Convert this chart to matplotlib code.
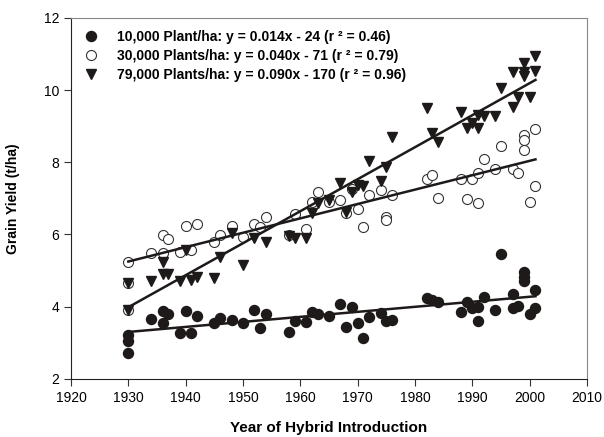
import numpy as np
import matplotlib.pyplot as plt
import matplotlib as mpl

mpl.rcParams['font.family'] = ['Liberation Sans', 'DejaVu Sans']

# ---- hybrid yield data, three planting densities ----
yr_10k = [1930, 1930, 1930, 1934, 1936, 1936, 1937, 1939, 1940, 1941, 1942, 1945,
          1946, 1948, 1950, 1952, 1953, 1954, 1958, 1959, 1961, 1962, 1963, 1965,
          1967, 1968, 1969, 1970, 1971, 1972, 1974, 1975, 1976, 1982, 1983, 1984,
          1988, 1989, 1990, 1991, 1991, 1992, 1994, 1995, 1997, 1997, 1998, 1999,
          1999, 1999, 2000, 2001, 2001]
y_10k = [3.22, 3.05, 2.72, 3.65, 3.89, 3.56, 3.80, 3.27, 3.89, 3.27, 3.75, 3.54,
         3.70, 3.62, 3.54, 3.91, 3.40, 3.79, 3.31, 3.59, 3.57, 3.84, 3.80, 3.75,
         4.08, 3.45, 4.00, 3.54, 3.13, 3.71, 3.82, 3.61, 3.63, 4.24, 4.19, 4.14,
         3.86, 4.14, 3.96, 4.00, 3.61, 4.28, 3.91, 5.45, 4.35, 3.96, 4.02, 4.97,
         4.83, 4.71, 3.80, 4.45, 3.96]

yr_30k = [1930, 1930, 1930, 1934, 1936, 1936, 1937, 1939, 1940, 1941, 1942, 1945,
          1946, 1948, 1950, 1952, 1953, 1954, 1958, 1959, 1961, 1962, 1963, 1965,
          1967, 1968, 1969, 1970, 1971, 1972, 1974, 1975, 1975, 1976, 1982, 1983,
          1984, 1988, 1989, 1990, 1991, 1991, 1992, 1994, 1995, 1997, 1998, 1999,
          1999, 1999, 2000, 2001, 2001]
y_30k = [5.25, 4.65, 3.91, 5.48, 5.99, 5.50, 5.87, 5.51, 6.24, 5.57, 6.29, 5.78,
         5.99, 6.24, 5.94, 6.29, 6.20, 6.48, 5.98, 6.57, 6.16, 6.91, 7.17, 6.91,
         6.96, 6.59, 7.25, 6.70, 6.20, 7.10, 7.24, 6.48, 6.39, 7.10, 7.53, 7.65,
         7.01, 7.53, 6.99, 7.53, 7.70, 6.87, 8.09, 7.81, 8.46, 7.81, 7.70, 8.76,
         8.62, 8.34, 6.91, 8.92, 7.33]

yr_79k = [1930, 1930, 1934, 1936, 1936, 1937, 1939, 1940, 1941, 1942, 1945, 1946,
          1948, 1950, 1952, 1954, 1958, 1959, 1961, 1962, 1963, 1965, 1967, 1968,
          1969, 1970, 1971, 1972, 1974, 1975, 1976, 1982, 1983, 1984, 1988, 1989,
          1990, 1991, 1991, 1992, 1994, 1995, 1997, 1997, 1998, 1999, 1999, 1999,
          2000, 2001, 2001]
y_79k = [4.65, 3.91, 4.71, 5.25, 4.91, 4.91, 4.72, 5.57, 4.74, 4.82, 4.79, 5.37,
         6.05, 5.16, 5.90, 5.80, 5.97, 5.90, 5.90, 6.59, 6.87, 6.96, 7.44, 6.63,
         7.19, 7.37, 7.33, 8.04, 7.47, 7.88, 8.70, 9.50, 8.82, 8.55, 9.40, 8.94,
         9.10, 8.94, 9.31, 9.27, 9.29, 10.05, 9.54, 10.51, 9.82, 10.76, 10.51, 10.39,
         9.82, 10.95, 10.53]

labels = ['10,000 Plant/ha: y = 0.014x - 24 (r \u00b2 = 0.46)',
          '30,000 Plants/ha: y = 0.040x - 71 (r \u00b2 = 0.79)',
          '79,000 Plants/ha: y = 0.090x - 170 (r \u00b2 = 0.96)']

fig = plt.figure(figsize=(6.04, 4.37), dpi=100)
ax = fig.add_axes([0.1175, 0.133, 0.8545, 0.826])

ms = 7.2
ax.plot(yr_10k, y_10k, 'o', ms=ms, mfc='#1e1a1a', mec='#1e1a1a', label=labels[0], zorder=3)
ax.plot(yr_30k, y_30k, 'o', ms=ms, mfc='white', mec='#333333', mew=0.8, label=labels[1], zorder=3)
ax.plot(yr_79k, y_79k, 'v', ms=ms, mfc='#1e1a1a', mec='#1e1a1a', label=labels[2], zorder=4)

# least-squares trend for each density
xs = np.array([1930, 2001])
for yr, yv in [(yr_10k, y_10k), (yr_30k, y_30k), (yr_79k, y_79k)]:
    b, a = np.polyfit(yr, yv, 1)
    ax.plot(xs, a + b*xs, color='#1e1a1a', lw=1.8, zorder=5)

ax.set_xlim(1920, 2010)
ax.set_ylim(2, 12)
ax.set_xticks(np.arange(1920, 2011, 10))
ax.set_yticks(np.arange(2, 13, 2))
ax.tick_params(labelsize=10, direction='out', length=5, width=0.8, color='#333333',
               top=False, right=False)
for s in ['left', 'bottom']:
    ax.spines[s].set_color('#222222')
for s in ['top', 'right']:
    ax.spines[s].set_color('#888888')

ax.set_xlabel('Year of Hybrid Introduction', fontsize=11, fontweight='bold', labelpad=12)
ax.set_ylabel('Grain Yield (t/ha)', fontsize=10, fontweight='bold', labelpad=17)

leg = ax.legend(loc='upper left', frameon=False, prop={'weight': 'bold', 'size': 10},
                handletextpad=1.3, labelspacing=0.38, borderaxespad=0.45,
                handlelength=1.2)

plt.savefig('out.png', dpi=100)
